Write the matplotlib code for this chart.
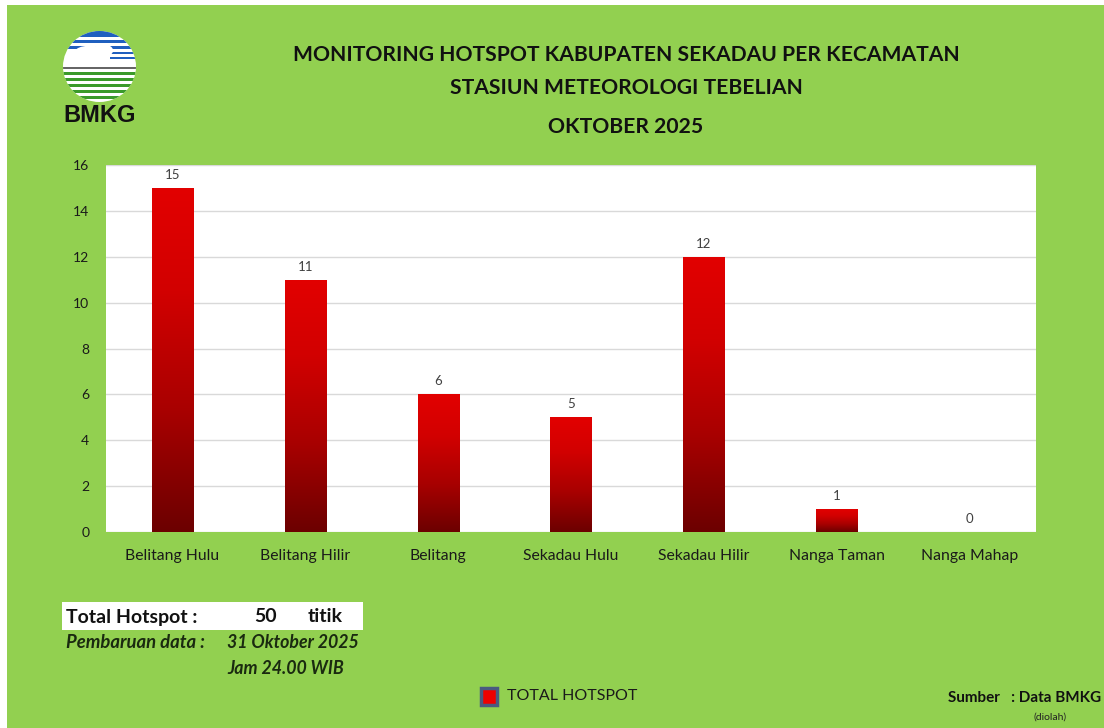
import numpy as np
import matplotlib
matplotlib.use("Agg")
import matplotlib.pyplot as plt
from matplotlib.colors import LinearSegmentedColormap
from matplotlib.patches import Rectangle, Circle, Ellipse

plt.rcParams['font.family'] = ['Lato', 'DejaVu Sans']

# data
kecamatan = ["Belitang Hulu", "Belitang Hilir", "Belitang", "Sekadau Hulu",
             "Sekadau Hilir", "Nanga Taman", "Nanga Mahap"]
hotspot = [15, 11, 6, 5, 12, 1, 0]
yticks = [0, 2, 4, 6, 8, 10, 12, 14, 16]
judul = ["MONITORING HOTSPOT KABUPATEN SEKADAU PER KECAMATAN",
         "STASIUN METEOROLOGI TEBELIAN",
         "OKTOBER 2025"]

W, H = 1104, 728
green = "#92d050"


def fx(x):
    return x / W


def fy(y):
    return 1 - y / H


fig = plt.figure(figsize=(W / 100, H / 100), dpi=100)
fig.patch.set_facecolor("white")
# latar hijau
fig.patches.append(Rectangle((fx(7), 0), 1 - fx(7), fy(5), transform=fig.transFigure,
                             facecolor=green, edgecolor="none", zorder=-10))

# area grafik
ax = fig.add_axes([fx(106), fy(532), fx(1036) - fx(106), fy(165) - fy(532)])
ax.set_facecolor("white")
x = np.arange(len(kecamatan))
lebar = 0.31
bars = ax.bar(x, hotspot, width=lebar, color="none", edgecolor="none", zorder=3)

cmap = LinearSegmentedColormap.from_list(
    "merah", [(0, "#6c0000"), (0.35, "#a80000"), (0.7, "#d20000"), (1, "#e20000")])
grad = np.linspace(0, 1, 256).reshape(-1, 1)
for b, v in zip(bars, hotspot):
    if v <= 0:
        continue
    bx = b.get_x()
    im = ax.imshow(grad, cmap=cmap, origin="lower", aspect="auto",
                   extent=(bx, bx + b.get_width(), 0, v), zorder=3)
    im.set_clip_path(b)

for xi, v in zip(x, hotspot):
    ax.annotate(str(v), (xi, v), xytext=(0, 5), textcoords="offset points",
                ha="center", va="bottom", fontsize=9.5, color="#404040")

ax.set_xlim(-0.5, len(kecamatan) - 0.5)
ax.set_ylim(0, 16)
ax.set_yticks(yticks)
ax.yaxis.grid(True, color="#d9d9d9", linewidth=1)
ax.set_axisbelow(True)
for s in ax.spines.values():
    s.set_visible(False)
ax.tick_params(axis="both", length=0, labelsize=10, colors="#1a1a1a")
ax.tick_params(axis="y", pad=12)
ax.tick_params(axis="x", pad=12)
ax.set_xticks(x)
ax.set_xticklabels(kecamatan, fontsize=11.3)

# judul
for teks, yy in zip(judul, [55, 88, 127]):
    fig.text(fx(626), fy(yy), teks, ha="center", va="center", fontsize=15.2,
             fontweight="bold", color="#111111")

# logo BMKG
lax = fig.add_axes([fx(63), fy(102), fx(73), fy(31) - fy(102)])
lax.set_xlim(-1, 1)
lax.set_ylim(-1, 1)
lax.axis("off")
lingkar = Circle((0, 0), 1, transform=lax.transData)
lax.add_patch(Circle((0, 0), 1, facecolor="white", edgecolor="none"))


def garis(y0, y1, warna, x0=-1, x1=1):
    r = lax.add_patch(Rectangle((x0, y0), x1 - x0, y1 - y0, facecolor=warna, edgecolor="none"))
    r.set_clip_path(lingkar)


biru = "#1f5fbf"
garis(0.83, 1.0, biru)
garis(0.66, 0.75, biru)
garis(0.49, 0.58, biru)
garis(0.35, 0.41, biru, x0=0.1)
garis(0.21, 0.27, biru, x0=0.3)
# awan
for e in [Ellipse((-0.25, 0.38), 0.9, 0.42), Ellipse((0.1, 0.45), 0.55, 0.35),
          Ellipse((-0.6, 0.3), 0.5, 0.3)]:
    e.set_facecolor("white")
    e.set_edgecolor("none")
    lax.add_patch(e)
    e.set_clip_path(lingkar)
garis(-0.06, -0.02, "#666666")
hijau = "#3a9a2a"
for y0, y1 in [(-0.24, -0.15), (-0.41, -0.32), (-0.58, -0.49), (-0.75, -0.66), (-0.92, -0.83)]:
    garis(y0, y1, hijau)
fig.text(fx(100), fy(116), "BMKG", ha="center", va="center", fontsize=17,
         fontweight="bold", family="Liberation Sans", color="#111111")

# kotak total
fig.patches.append(Rectangle((fx(62), fy(630)), fx(363) - fx(62), fy(602) - fy(630),
                             transform=fig.transFigure, facecolor="white", edgecolor="none"))
fig.text(fx(66), fy(617), "Total Hotspot :", ha="left", va="center", fontsize=14,
         fontweight="bold", color="#111111")
fig.text(fx(266), fy(617), str(sum(hotspot)), ha="center", va="center", fontsize=14,
         fontweight="bold", color="#111111")
fig.text(fx(308), fy(617), "titik", ha="left", va="center", fontsize=14,
         fontweight="bold", color="#111111")
fig.text(fx(66), fy(643), "Pembaruan data :", ha="left", va="center", fontsize=13.3,
         fontweight="bold", style="italic", color="#1a2a10")
fig.text(fx(227), fy(643), "31 Oktober 2025", ha="left", va="center", fontsize=12.8,
         fontweight="bold", style="italic", color="#1a2a10")
fig.text(fx(227), fy(669), "Jam 24.00 WIB", ha="left", va="center", fontsize=12.8,
         fontweight="bold", style="italic", color="#1a2a10")

# legenda
fig.patches.append(Rectangle((fx(481), fy(705)), fx(16), fy(688) - fy(705),
                             transform=fig.transFigure, facecolor="#ee0000",
                             edgecolor="#4a5a80", linewidth=2.5))
fig.text(fx(507), fy(696), "TOTAL HOTSPOT", ha="left", va="center", fontsize=11.5,
         color="#1a1a1a")

# sumber
fig.text(fx(948), fy(698), "Sumber   : Data BMKG", ha="left", va="center", fontsize=11,
         fontweight="bold", color="#111111")
fig.text(fx(1050), fy(717), "(diolah)", ha="center", va="center", fontsize=7.5,
         color="#222222")

fig.savefig("out.png", dpi=100, facecolor=fig.get_facecolor())
